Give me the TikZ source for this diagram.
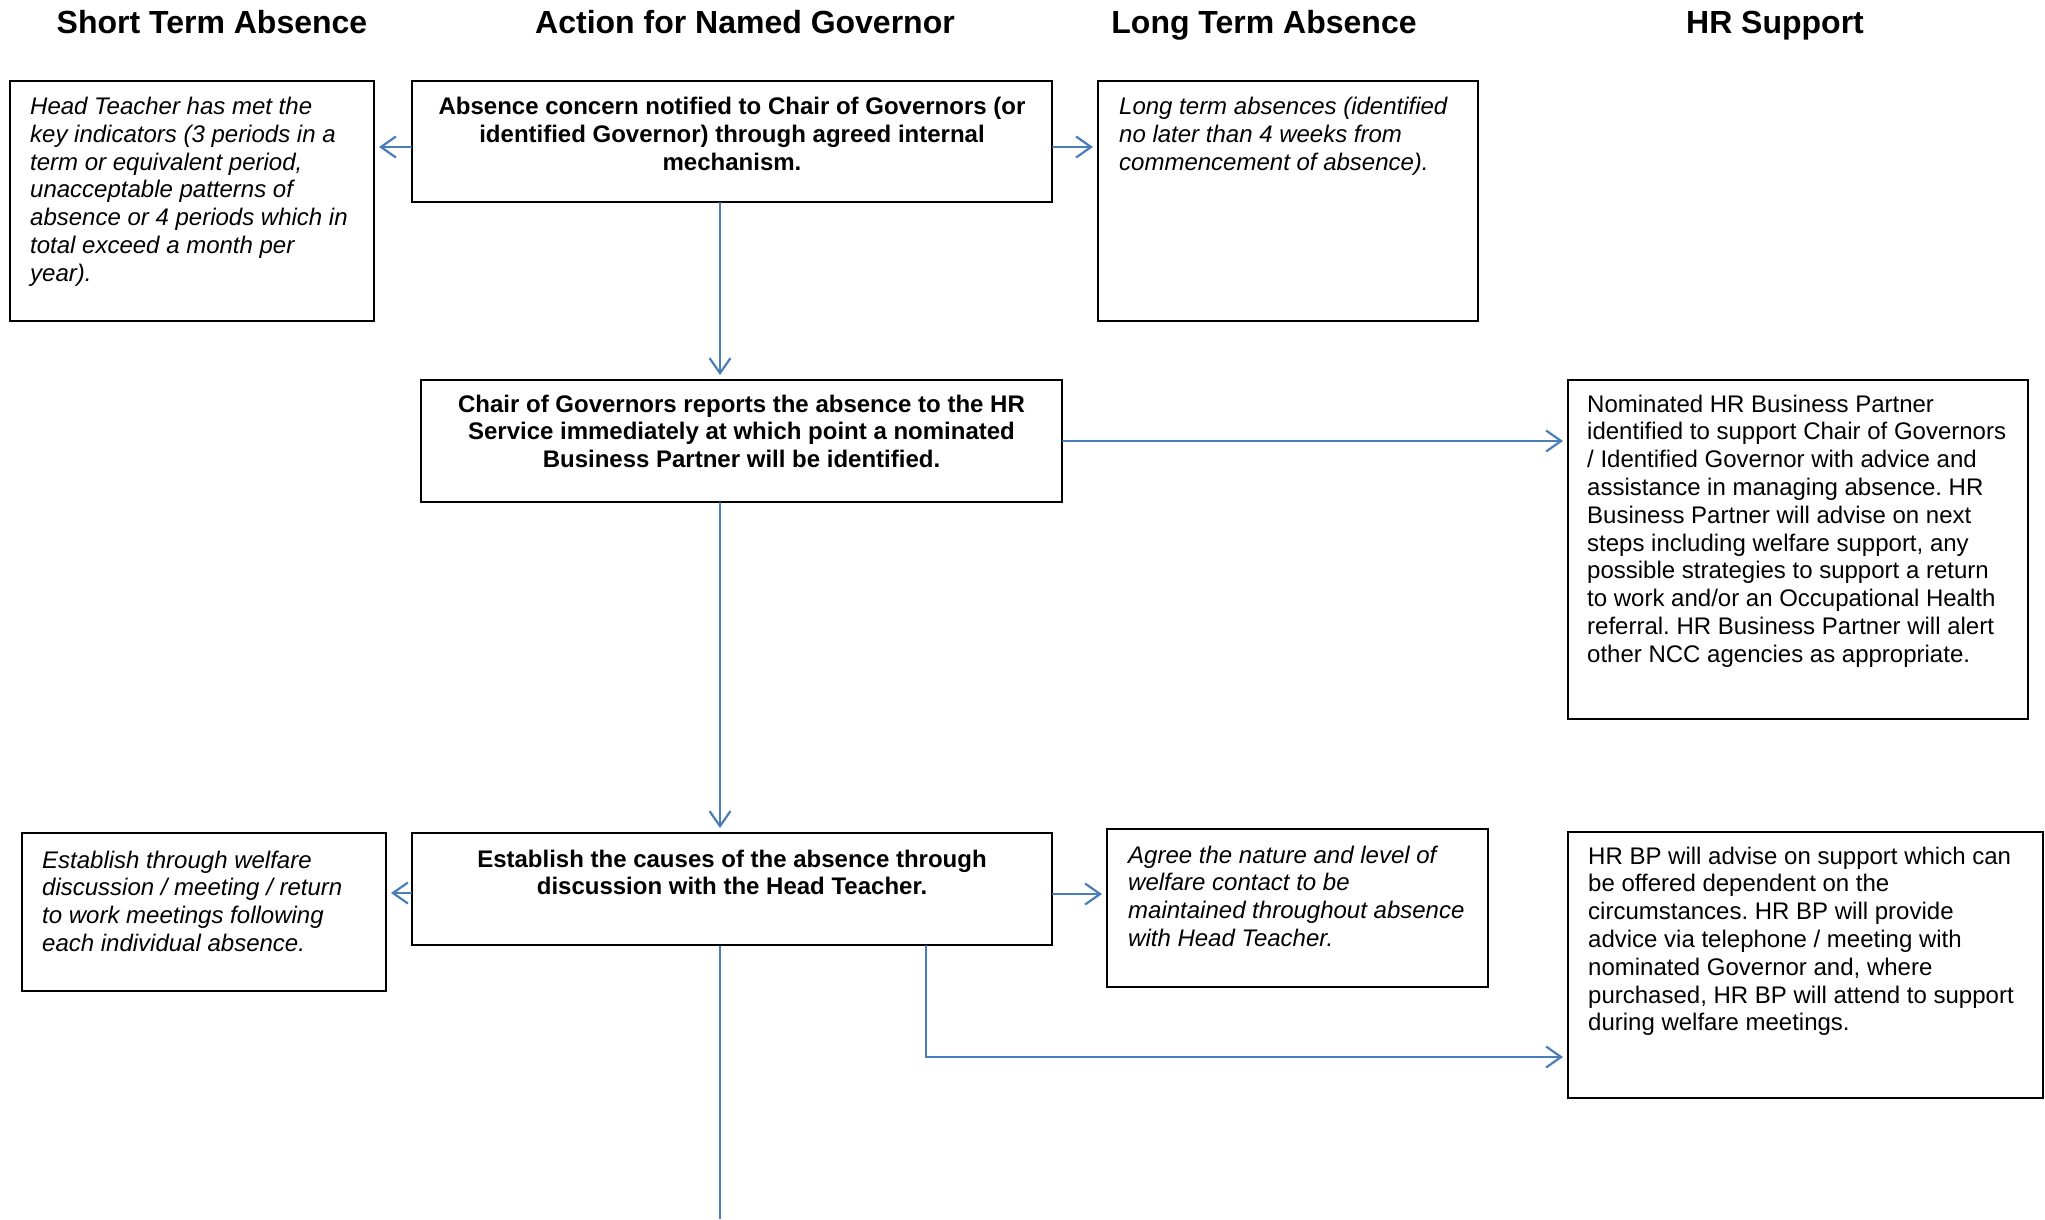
\documentclass[tikz,border=0pt]{standalone}
\usepackage{fontspec}
\setmainfont{Liberation Sans}
\usetikzlibrary{arrows.meta}
\frenchspacing
\definecolor{flowblue}{HTML}{4A7EBB}
\newcommand{\leftlines}[1]{\begin{tabular}[t]{@{}l@{}}#1\end{tabular}}
\newcommand{\centerlines}[1]{\begin{tabular}[t]{@{}c@{}}#1\end{tabular}}
\tikzset{
  box/.style={draw=black, line width=2pt, inner sep=0pt, fill=white},
  txt/.style={inner sep=0pt, font=\fontsize{24}{27.8}\selectfont\frenchspacing},
  head/.style={inner sep=0pt, anchor=base, font=\fontsize{32}{38}\selectfont\bfseries},
  arr/.style={draw=flowblue, line width=2.2pt, line cap=round,
    -{Straight Barb[length=15pt,width=21pt,line width=2.2pt]}, shorten >=4pt},
  plain/.style={draw=flowblue, line width=2.2pt}
}
\begin{document}
\begin{tikzpicture}[x=1pt,y=-1pt]
\useasboundingbox (0,0) rectangle (2045,1219);

% headings
\node[head] (h1) at (212,33) {Short Term Absence};
\node[head] (h2) at (745,33) {Action for Named Governor};
\node[head] (h3) at (1264,33) {Long Term Absence};
\node[head] (h4) at (1775,33) {HR Support};

% boxes
\node[box, minimum width=364pt, minimum height=240pt] (b1) at (192,201) {};
\node[box, minimum width=640pt, minimum height=121pt] (m1) at (732,141.5) {};
\node[box, minimum width=380pt, minimum height=240pt] (lt) at (1288,201) {};
\node[box, minimum width=641pt, minimum height=122pt] (m2) at (741.5,441) {};
\node[box, minimum width=460pt, minimum height=339pt] (hr1) at (1798,549.5) {};
\node[box, minimum width=364pt, minimum height=158pt] (b3) at (204,912) {};
\node[box, minimum width=640pt, minimum height=112pt] (m3) at (732,889) {};
\node[box, minimum width=381pt, minimum height=158pt] (ag) at (1297.5,908) {};
\node[box, minimum width=475pt, minimum height=266pt] (hr2) at (1805.5,965) {};

% texts
\node[txt, anchor=base west] (t1) at ([shift={(21,34.5)}]b1.north west)
  {\itshape\leftlines{Head Teacher has met the\\key indicators (3 periods in a\\term or equivalent period,\\unacceptable patterns of\\absence or 4 periods which in\\total exceed a month per\\year).}};
\node[txt, anchor=base] (tm1) at ([yshift=-34.5pt]m1.north)
  {\bfseries\centerlines{Absence concern notified to Chair of Governors (or\\identified Governor) through agreed internal\\mechanism.}};
\node[txt, anchor=base west] (tlt) at ([shift={(22,34.5)}]lt.north west)
  {\itshape\leftlines{Long term absences (identified\\no later than 4 weeks from\\commencement of absence).}};
\node[txt, anchor=base] (tm2) at ([yshift=-33pt]m2.north)
  {\bfseries\centerlines{Chair of Governors reports the absence to the HR\\Service immediately at which point a nominated\\Business Partner will be identified.}};
\node[txt, anchor=base west] (thr1) at ([shift={(20,33)}]hr1.north west)
  {\leftlines{Nominated HR Business Partner\\identified to support Chair of Governors\\/ Identified Governor with advice and\\assistance in managing absence. HR\\Business Partner will advise on next\\steps including welfare support, any\\possible strategies to support a return\\to work and/or an Occupational Health\\referral. HR Business Partner will alert\\other NCC agencies as appropriate.}};
\node[txt, anchor=base west] (tb3) at ([shift={(21,36)}]b3.north west)
  {\itshape\leftlines{Establish through welfare\\discussion / meeting / return\\to work meetings following\\each individual absence.}};
\node[txt, anchor=base] (tm3) at ([yshift=-35pt]m3.north)
  {\bfseries\centerlines{Establish the causes of the absence through\\discussion with the Head Teacher.}};
\node[txt, anchor=base west] (tag) at ([shift={(22,35)}]ag.north west)
  {\itshape\leftlines{Agree the nature and level of\\welfare contact to be\\maintained throughout absence\\with Head Teacher.}};
\node[txt, anchor=base west] (thr2) at ([shift={(21,33)}]hr2.north west)
  {\leftlines{HR BP will advise on support which can\\be offered dependent on the\\circumstances. HR BP will provide\\advice via telephone / meeting with\\nominated Governor and, where\\purchased, HR BP will attend to support\\during welfare meetings.}};

% connectors
\coordinate (spine) at (720,0);
\coordinate (branch) at (926,0);
\coordinate (pageend) at (720,1219);

\draw[arr] ([yshift=-5.5pt]m1.west) -- ([yshift=-5.5pt]m1.west -| b1.east);
\draw[arr] ([yshift=-5.5pt]m1.east) -- ([yshift=-5.5pt]m1.east -| lt.west);
\draw[arr] (spine |- m1.south) -- (spine |- m2.north);
\draw[arr] (m2.east) -- (m2.east -| hr1.west);
\draw[arr] (spine |- m2.south) -- (spine |- m3.north);
\draw[arr] ([yshift=-4pt]m3.west) -- ([yshift=-4pt]m3.west -| b3.east);
\draw[arr] ([yshift=-5pt]m3.east) -- ([yshift=-5pt]m3.east -| ag.west);
\draw[arr] (branch |- m3.south) |- ([yshift=-92pt]hr2.west);
\draw[plain] (spine |- m3.south) -- (pageend);
\end{tikzpicture}
\end{document}
